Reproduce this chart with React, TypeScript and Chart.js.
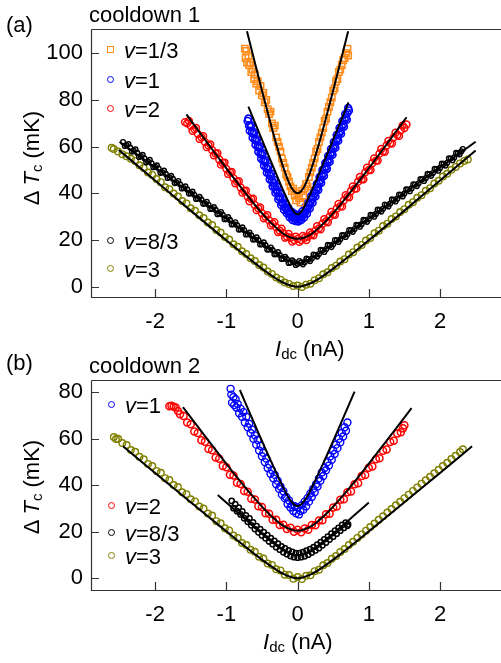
import React, { useEffect, useRef } from 'react';
import { Chart, registerables } from 'chart.js';
Chart.register(...registerables);

const FONT = '"Liberation Sans", Arial, Helvetica, sans-serif';

type P = [number, number][];

// ---- axes ----
const xTicks = [-2, -1, 0, 1, 2];
const yTicksA = [0, 20, 40, 60, 80, 100];
const yTicksB = [0, 20, 40, 60, 80];
const xMin = -2.9, xMax = 2.856;
const yMinA = -4.4, yMaxA = 110.4;
const yMinB = -5.0, yMaxB = 85.3;

// ---- panel (a): cooldown 1 ----
const nu13A: P = [[-0.74,102],[-0.73,98],[-0.72,101],[-0.71,96],[-0.69,99],[-0.68,95],[-0.66,96],[-0.65,92],[-0.63,93],[-0.61,89],[-0.60,91],[-0.58,87],[-0.56,88],[-0.54,84],[-0.52,86],[-0.50,82],[-0.48,83],[-0.46,79],[-0.44,80],[-0.42,76],[-0.40,74],[-0.38,75],[-0.36,70],[-0.34,68],[-0.32,69],[-0.30,64],[-0.28,62],[-0.26,60],[-0.24,58],[-0.22,55],[-0.20,53],[-0.18,51],[-0.16,48],[-0.14,47],[-0.12,45],[-0.10,43],[-0.08,41],[-0.06,42],[-0.04,39],[-0.02,37],[0.00,40],[0.02,38],[0.04,36],[0.06,41],[0.08,39],[0.10,42],[0.12,44],[0.14,43],[0.16,47],[0.18,49],[0.20,51],[0.22,53],[0.24,55],[0.26,58],[0.28,59],[0.30,62],[0.32,64],[0.34,66],[0.36,68],[0.38,71],[0.40,72],[0.42,75],[0.44,77],[0.46,79],[0.48,81],[0.50,84],[0.52,85],[0.54,88],[0.56,89],[0.58,92],[0.60,93],[0.62,95],[0.64,97],[0.66,98],[0.68,100],[0.70,102],[0.71,99]];
const nu1A: P = [[-0.70,71],[-0.68,69],[-0.66,68.5],[-0.64,66],[-0.62,65.5],[-0.60,63],[-0.58,62.5],[-0.56,60],[-0.54,59.5],[-0.52,57],[-0.50,56.5],[-0.48,54],[-0.46,53.5],[-0.44,51],[-0.42,50.5],[-0.40,48.5],[-0.38,47.5],[-0.36,45.5],[-0.34,44.5],[-0.32,43],[-0.30,41.5],[-0.28,40.5],[-0.26,38.5],[-0.24,38],[-0.22,36],[-0.20,35.5],[-0.18,34],[-0.16,33.5],[-0.14,32.5],[-0.12,31.5],[-0.10,31],[-0.08,30],[-0.06,30],[-0.04,29.5],[-0.02,29],[0,29.5],[0.02,29],[0.04,30],[0.06,30],[0.08,31],[0.10,31.5],[0.12,33],[0.14,33.5],[0.16,35],[0.18,36],[0.20,37.5],[0.22,38.5],[0.24,40],[0.26,41.5],[0.28,42.5],[0.30,44.5],[0.32,45.5],[0.34,47.5],[0.36,48.5],[0.38,50.5],[0.40,51.5],[0.42,53.5],[0.44,54.5],[0.46,56.5],[0.48,57.5],[0.50,59.5],[0.52,60.5],[0.54,62.5],[0.56,63.5],[0.58,65.5],[0.60,66.5],[0.62,68.5],[0.64,69.5],[0.66,71.5],[0.68,72.5],[0.70,74.5],[0.72,75.5]];
const nu1A2: P = [[-0.69,72],[-0.67,66.8],[-0.65,69.2],[-0.63,63.8],[-0.61,66.2],[-0.59,60.8],[-0.57,63.2],[-0.55,57.8],[-0.53,60.2],[-0.51,54.8],[-0.49,57.2],[-0.47,51.8],[-0.45,54.2],[-0.43,48.8],[-0.41,51.5],[-0.39,46],[-0.37,48.5],[-0.35,43],[-0.33,45.7],[-0.31,40.3],[-0.29,43],[-0.27,37.5],[-0.25,40.2],[-0.23,35],[-0.21,37.7],[-0.19,33],[-0.17,35.5],[-0.15,31.5],[-0.13,33.8],[-0.11,29.8],[-0.09,32.2],[-0.07,28.6],[-0.05,31.3],[-0.03,28.2],[-0.01,30.6],[0.01,28.0],[0.03,31.0],[0.05,28.6],[0.07,32.3],[0.09,29.7],[0.11,34.2],[0.13,31.3],[0.15,36.2],[0.17,33.5],[0.19,38.7],[0.21,36],[0.23,41.2],[0.25,38.7],[0.27,44],[0.29,41.5],[0.31,47],[0.33,44.5],[0.35,50],[0.37,47.5],[0.39,53],[0.41,50.5],[0.43,56],[0.45,53.5],[0.47,59],[0.49,56.5],[0.51,62],[0.53,59.5],[0.55,65],[0.57,62.5],[0.59,68],[0.61,65.5],[0.63,71],[0.65,68.5],[0.67,74],[0.69,71.5],[0.71,76.5]];
const nu2A: P = [[-1.58,70.5],[-1.55,70],[-1.50,69],[-1.45,67.5],[-1.40,65.5],[-1.35,64],[-1.30,62],[-1.25,60.5],[-1.20,58.5],[-1.15,57],[-1.10,54.5],[-1.05,53],[-1.00,50.5],[-0.95,49],[-0.90,46.5],[-0.85,45],[-0.80,42.5],[-0.75,41],[-0.70,38.5],[-0.65,37.5],[-0.60,35],[-0.55,33.5],[-0.50,31.5],[-0.45,30],[-0.40,28.5],[-0.35,27],[-0.30,25.5],[-0.25,24],[-0.20,23],[-0.15,21.5],[-0.10,21],[-0.05,20],[0,20.5],[0.05,20],[0.10,21],[0.15,21.5],[0.20,22.5],[0.25,24],[0.30,25],[0.35,27],[0.40,28],[0.45,30],[0.50,31],[0.55,33.5],[0.60,34.5],[0.65,37],[0.70,38.5],[0.75,41],[0.80,42],[0.85,45],[0.90,46],[0.95,49],[1.00,50],[1.05,53],[1.10,54],[1.15,57],[1.20,58],[1.25,60.5],[1.30,61.5],[1.35,64],[1.40,65],[1.45,67],[1.50,68],[1.53,69.5]];
const nu2A2: P = [[-1.525,71.0],[-1.475,66.8],[-1.425,68.0],[-1.375,63.3],[-1.325,64.5],[-1.275,59.8],[-1.225,61.0],[-1.175,56.3],[-1.125,57.2],[-1.075,52.3],[-1.025,53.2],[-0.975,48.3],[-0.925,49.2],[-0.875,44.3],[-0.825,45.2],[-0.775,40.3],[-0.725,41.2],[-0.675,36.6],[-0.625,37.7],[-0.575,32.8],[-0.525,34.0],[-0.475,29.3],[-0.425,30.7],[-0.375,26.3],[-0.325,27.7],[-0.275,23.4],[-0.225,24.9],[-0.175,21.0],[-0.125,22.6],[-0.075,19.3],[-0.025,21.5],[0.025,19.2],[0.075,21.8],[0.125,20.0],[0.175,23.3],[0.225,22.0],[0.275,26.0],[0.325,24.6],[0.375,29.0],[0.425,27.6],[0.475,32.0],[0.525,30.8],[0.575,35.5],[0.625,34.3],[0.675,39.2],[0.725,38.3],[0.775,43.0],[0.825,42.0],[0.875,47.0],[0.925,46.0],[0.975,51.0],[1.025,50.0],[1.075,55.0],[1.125,54.0],[1.175,59.0],[1.225,57.8],[1.275,62.5],[1.325,61.3],[1.375,66.0],[1.425,64.6],[1.475,69.0]];
const nu83A: P = [[-2.45,62.0],[-2.40,60.6],[-2.35,59.6],[-2.30,58.2],[-2.25,57.3],[-2.20,55.9],[-2.15,55.0],[-2.10,53.6],[-2.05,52.9],[-2.00,51.4],[-1.95,50.6],[-1.90,49.0],[-1.85,48.3],[-1.80,46.9],[-1.75,46.2],[-1.70,44.6],[-1.65,43.9],[-1.60,42.3],[-1.55,41.7],[-1.50,40.0],[-1.45,39.4],[-1.40,37.8],[-1.35,37.3],[-1.30,35.7],[-1.25,35.1],[-1.20,33.4],[-1.15,32.9],[-1.10,31.3],[-1.05,30.8],[-1.00,29.0],[-0.95,28.6],[-0.90,26.8],[-0.85,26.4],[-0.80,24.6],[-0.75,24.3],[-0.70,22.5],[-0.65,22.0],[-0.60,20.3],[-0.55,20.0],[-0.50,18.2],[-0.45,17.8],[-0.40,16.0],[-0.35,15.7],[-0.30,14.0],[-0.25,13.6],[-0.20,12.0],[-0.15,11.8],[-0.10,10.4],[-0.05,10.5],[0,9.8],[0.05,10.4],[0.10,10.5],[0.15,11.7],[0.20,12.1],[0.25,13.6],[0.30,14.0],[0.35,15.6],[0.40,16.1],[0.45,17.7],[0.50,18.2],[0.55,19.9],[0.60,20.3],[0.65,22.0],[0.70,22.5],[0.75,24.2],[0.80,24.7],[0.85,26.4],[0.90,26.8],[0.95,28.5],[1.00,29.0],[1.05,30.7],[1.10,31.2],[1.15,32.9],[1.20,33.4],[1.25,35.0],[1.30,35.6],[1.35,37.2],[1.40,37.7],[1.45,39.4],[1.50,39.9],[1.55,41.6],[1.60,42.1],[1.65,43.8],[1.70,44.3],[1.75,46.0],[1.80,46.5],[1.85,48.2],[1.90,48.7],[1.95,50.4],[2.00,50.9],[2.05,52.6],[2.10,53.1],[2.15,54.9],[2.20,55.4],[2.25,57.2],[2.30,58.0],[2.32,59.0]];
const nu83A2: P = [[-2.425,60.3],[-2.375,61.1],[-2.325,57.9],[-2.275,58.8],[-2.225,55.6],[-2.175,56.5],[-2.125,53.3],[-2.075,54.3],[-2.025,51.2],[-1.975,52.0],[-1.925,48.8],[-1.875,49.7],[-1.825,46.6],[-1.775,47.5],[-1.725,44.4],[-1.675,45.3],[-1.625,42.1],[-1.575,43.0],[-1.525,39.9],[-1.475,40.7],[-1.425,37.6],[-1.375,38.5],[-1.325,35.5],[-1.275,36.4],[-1.225,33.3],[-1.175,34.1],[-1.125,31.1],[-1.075,32.0],[-1.025,28.9],[-0.975,29.8],[-0.925,26.7],[-0.875,27.6],[-0.825,24.5],[-0.775,25.4],[-0.725,22.4],[-0.675,23.2],[-0.625,20.2],[-0.575,21.1],[-0.525,18.1],[-0.475,19.0],[-0.425,15.9],[-0.375,16.8],[-0.325,13.9],[-0.275,14.8],[-0.225,11.9],[-0.175,12.8],[-0.125,10.2],[-0.075,11.3],[-0.025,9.3],[0.025,11.0],[0.075,9.6],[0.125,12.0],[0.175,11.0],[0.225,13.8],[0.275,12.9],[0.325,15.8],[0.375,14.9],[0.425,17.9],[0.475,17.0],[0.525,20.0],[0.575,19.2],[0.625,22.1],[0.675,21.3],[0.725,24.3],[0.775,23.5],[0.825,26.5],[0.875,25.7],[0.925,28.6],[0.975,27.8],[1.025,30.8],[1.075,30.0],[1.125,33.0],[1.175,32.2],[1.225,35.2],[1.275,34.4],[1.325,37.4],[1.375,36.5],[1.425,39.5],[1.475,38.7],[1.525,41.7],[1.575,40.9],[1.625,43.9],[1.675,43.1],[1.725,46.1],[1.775,45.3],[1.825,48.3],[1.875,47.5],[1.925,50.5],[1.975,49.7],[2.025,52.7],[2.075,51.9],[2.125,55.0],[2.175,54.2],[2.225,57.3],[2.275,56.7]];
const nu3A: P = [[-2.61,59.5],[-2.58,59.0],[-2.52,57.9],[-2.46,56.8],[-2.40,55.9],[-2.34,54.8],[-2.28,53.9],[-2.22,52.0],[-2.16,50.9],[-2.10,48.9],[-2.04,47.9],[-1.98,46.1],[-1.92,44.8],[-1.86,42.6],[-1.80,41.8],[-1.74,39.9],[-1.68,38.6],[-1.62,36.7],[-1.56,35.7],[-1.50,33.6],[-1.44,32.5],[-1.38,30.6],[-1.32,29.4],[-1.26,27.5],[-1.20,26.4],[-1.14,24.3],[-1.08,23.2],[-1.02,21.3],[-0.96,20.2],[-0.90,18.2],[-0.84,17.1],[-0.78,15.2],[-0.72,14.0],[-0.66,12.2],[-0.60,11.0],[-0.54,9.3],[-0.48,8.2],[-0.42,6.5],[-0.36,5.5],[-0.30,3.9],[-0.24,3.0],[-0.18,1.8],[-0.12,1.2],[-0.06,0.3],[0,0.5],[0.06,-0.1],[0.12,0.9],[0.18,1.3],[0.24,2.8],[0.30,3.6],[0.36,5.3],[0.42,6.2],[0.48,8.0],[0.54,9.0],[0.60,10.8],[0.66,11.8],[0.72,13.8],[0.78,14.8],[0.84,16.8],[0.90,17.9],[0.96,19.8],[1.02,20.9],[1.08,22.9],[1.14,24.0],[1.20,26.0],[1.26,27.0],[1.32,29.0],[1.38,30.1],[1.44,32.0],[1.50,33.2],[1.56,35.1],[1.62,36.2],[1.68,38.1],[1.74,39.2],[1.80,41.1],[1.86,42.2],[1.92,44.2],[1.98,45.4],[2.04,47.2],[2.10,48.4],[2.16,50.1],[2.22,51.3],[2.28,52.8],[2.34,53.9],[2.39,54.5]];

const fit13A: P = [[-0.71,109.4],[-0.6,96.0],[-0.5,84.1],[-0.4,72.4],[-0.3,61.2],[-0.2,51.1],[-0.1,43.2],[-0.05,40.9],[0,40],[0.05,40.9],[0.1,43.2],[0.2,51.1],[0.3,61.2],[0.4,72.4],[0.5,84.1],[0.6,96.0],[0.71,109.4]];
const fit1A: P = [[-0.69,77.1],[-0.6,70.4],[-0.5,63.0],[-0.4,55.6],[-0.3,48.3],[-0.2,41.2],[-0.1,34.6],[-0.05,32.1],[0,31],[0.05,32.1],[0.1,34.6],[0.2,41.2],[0.3,48.3],[0.4,55.6],[0.5,63.0],[0.6,70.4],[0.715,79.0]];
const fit2A: P = [[-1.56,73.8],[-1.2,58.9],[-0.9,46.7],[-0.6,35.1],[-0.4,28.2],[-0.2,22.7],[-0.1,21.1],[0,20.5],[0.1,21.1],[0.2,22.7],[0.4,28.2],[0.6,35.1],[0.9,46.7],[1.2,58.9],[1.53,72.6]];
const fit83A: P = [[-2.5,62.1],[-2.0,51.1],[-1.5,40.1],[-1.0,29.2],[-0.6,20.5],[-0.4,16.3],[-0.2,12.3],[0,10],[0.2,12.3],[0.4,16.3],[0.6,20.5],[1.0,29.2],[1.5,40.1],[2.0,51.1],[2.5,62.1]];
const fit3A: P = [[-2.51,58.6],[-2.0,45.5],[-1.5,32.6],[-1.0,19.9],[-0.6,10.1],[-0.4,5.5],[-0.2,1.7],[0,0],[0.2,1.7],[0.4,5.5],[0.6,10.1],[1.0,19.9],[1.5,32.6],[2.0,45.5],[2.5,58.4]];

// ---- panel (b): cooldown 2 ----
const nu1B: P = [[-0.94,81.5],[-0.93,79],[-0.92,75.5],[-0.90,78],[-0.89,74.5],[-0.87,77],[-0.86,73.5],[-0.84,75],[-0.82,71],[-0.80,73],[-0.78,69.5],[-0.76,71.5],[-0.74,67],[-0.72,69.5],[-0.70,65],[-0.68,66.5],[-0.66,62.5],[-0.64,64],[-0.62,60],[-0.60,61.5],[-0.58,57.5],[-0.56,59.5],[-0.54,55],[-0.52,57],[-0.50,52.5],[-0.48,54],[-0.46,50],[-0.44,51.5],[-0.42,47.5],[-0.40,49],[-0.38,45],[-0.36,46.5],[-0.34,43],[-0.32,44.5],[-0.30,40.5],[-0.28,42],[-0.26,38.5],[-0.24,39.5],[-0.22,36],[-0.20,37.5],[-0.18,34.5],[-0.16,35],[-0.14,32],[-0.12,33.5],[-0.10,30.5],[-0.08,31.5],[-0.06,29],[-0.04,31],[-0.02,28],[0,30.5],[0.02,27.5],[0.04,29],[0.06,31.5],[0.08,29.5],[0.10,33],[0.12,31],[0.14,34.5],[0.16,33],[0.18,36.5],[0.20,35],[0.22,38.5],[0.24,37],[0.26,40.5],[0.28,39.5],[0.30,43],[0.32,42],[0.34,45.5],[0.36,44],[0.38,47.5],[0.40,46.5],[0.42,50],[0.44,48.5],[0.46,52.5],[0.48,51],[0.50,55],[0.52,53.5],[0.54,57.5],[0.56,56],[0.58,60],[0.60,58.5],[0.62,62.5],[0.64,61],[0.66,65],[0.68,63.5],[0.70,67]];
const nu2B: P = [[-1.80,74.0],[-1.77,74.2],[-1.74,73.8],[-1.71,73.5],[-1.68,72.0],[-1.65,70.6],[-1.60,69.8],[-1.55,67.0],[-1.50,66.3],[-1.45,63.2],[-1.40,62.5],[-1.35,59.4],[-1.30,58.8],[-1.25,55.6],[-1.20,55.1],[-1.15,52.0],[-1.10,51.4],[-1.05,48.3],[-1.00,47.8],[-0.95,44.6],[-0.90,44.2],[-0.85,41.1],[-0.80,40.6],[-0.75,37.6],[-0.70,37.2],[-0.65,34.2],[-0.60,33.9],[-0.55,31.0],[-0.50,30.7],[-0.45,28.0],[-0.40,27.8],[-0.35,25.2],[-0.30,25.2],[-0.25,22.9],[-0.20,23.1],[-0.15,21.2],[-0.10,21.8],[-0.05,20.0],[0,20.9],[0.05,19.8],[0.10,21.4],[0.15,20.9],[0.20,22.9],[0.25,22.8],[0.30,24.9],[0.35,25.0],[0.40,27.6],[0.45,27.8],[0.50,30.5],[0.55,30.9],[0.60,33.8],[0.65,34.0],[0.70,37.0],[0.75,37.4],[0.80,40.5],[0.85,40.9],[0.90,44.0],[0.95,44.5],[1.00,47.6],[1.05,48.1],[1.10,51.2],[1.15,51.7],[1.20,54.9],[1.25,55.4],[1.30,58.6],[1.35,59.2],[1.40,62.3],[1.45,62.8],[1.48,64.5],[1.50,65.8]];
const nu83B: P = [[-0.925,33.3],[-0.900,30.2],[-0.875,31.9],[-0.850,28.9],[-0.825,30.4],[-0.800,27.5],[-0.775,28.8],[-0.750,25.9],[-0.725,27.1],[-0.700,24.3],[-0.675,25.8],[-0.650,22.8],[-0.625,24.1],[-0.600,21.2],[-0.575,22.5],[-0.550,19.8],[-0.525,21.2],[-0.500,18.4],[-0.475,19.9],[-0.450,17.2],[-0.425,18.6],[-0.400,15.9],[-0.375,17.3],[-0.350,14.7],[-0.325,16.1],[-0.300,13.4],[-0.275,14.9],[-0.250,12.3],[-0.225,13.8],[-0.200,11.2],[-0.175,12.9],[-0.150,10.4],[-0.125,12.1],[-0.100,9.6],[-0.075,11.4],[-0.050,9.1],[-0.025,10.9],[0,8.9],[0.025,10.9],[0.050,9.1],[0.075,11.3],[0.100,9.5],[0.125,11.9],[0.150,10.2],[0.175,12.6],[0.200,11.1],[0.225,13.5],[0.250,12.0],[0.275,14.5],[0.300,13.0],[0.325,15.6],[0.350,14.2],[0.375,16.8],[0.400,15.4],[0.425,18.0],[0.450,16.7],[0.475,19.3],[0.500,17.9],[0.525,20.5],[0.550,19.2],[0.575,21.7],[0.600,20.5],[0.625,23.0],[0.650,21.7],[0.675,24.0],[0.700,22.6],[0.710,23.2]];
const nu3B: P = [[-2.58,60.8],[-2.55,59.9],[-2.52,60.0],[-2.46,58.2],[-2.40,57.3],[-2.34,55.2],[-2.28,54.4],[-2.22,52.3],[-2.16,51.2],[-2.10,49.2],[-2.04,48.3],[-1.98,46.2],[-1.92,45.4],[-1.86,43.1],[-1.80,42.3],[-1.74,40.1],[-1.68,39.3],[-1.62,37.0],[-1.56,36.2],[-1.50,34.0],[-1.44,33.1],[-1.38,30.9],[-1.32,30.0],[-1.26,27.9],[-1.20,27.0],[-1.14,24.6],[-1.08,23.7],[-1.02,21.5],[-0.96,20.6],[-0.90,18.4],[-0.84,17.4],[-0.78,15.2],[-0.72,14.3],[-0.66,12.3],[-0.60,11.4],[-0.54,9.3],[-0.48,8.5],[-0.42,6.4],[-0.36,5.8],[-0.30,3.9],[-0.24,3.4],[-0.18,1.6],[-0.12,1.4],[-0.06,-0.2],[0,0.6],[0.06,-0.3],[0.12,1.1],[0.18,1.3],[0.24,3.1],[0.30,3.7],[0.36,5.6],[0.42,6.6],[0.48,8.4],[0.54,9.6],[0.60,11.3],[0.66,12.6],[0.72,14.3],[0.78,15.7],[0.84,17.4],[0.90,18.9],[0.96,20.5],[1.02,22.1],[1.08,23.6],[1.14,25.2],[1.20,26.7],[1.26,28.3],[1.32,29.8],[1.38,31.4],[1.44,32.9],[1.50,34.5],[1.56,36.0],[1.62,37.6],[1.68,39.1],[1.74,40.7],[1.80,42.2],[1.86,43.7],[1.92,45.2],[1.98,46.7],[2.04,48.3],[2.10,49.7],[2.16,51.3],[2.22,52.7],[2.28,54.3],[2.32,55.5]];

const fit1B: P = [[-0.81,81.0],[-0.6,66.1],[-0.4,52.2],[-0.2,39.0],[-0.1,33.5],[0,31],[0.1,33.5],[0.2,39.0],[0.4,52.2],[0.6,66.1],[0.8,80.3]];
const fit2B: P = [[-1.61,73.6],[-1.2,57.2],[-0.9,45.4],[-0.6,34.3],[-0.4,27.7],[-0.2,22.6],[0,20.5],[0.2,22.6],[0.4,27.7],[0.6,34.3],[0.9,45.4],[1.2,57.2],[1.6,73.2]];
const fit83B: P = [[-1.12,35.9],[-0.8,27.2],[-0.5,19.2],[-0.3,14.3],[-0.15,11.3],[0,10],[0.15,11.3],[0.3,14.3],[0.5,19.2],[0.8,27.2],[1.0,32.6]];
const fit3B: P = [[-2.45,56.8],[-2.0,45.3],[-1.5,32.7],[-1.0,20.2],[-0.6,10.4],[-0.4,5.8],[-0.2,1.9],[0,0],[0.2,1.9],[0.4,5.8],[0.6,10.4],[1.0,20.2],[1.5,32.7],[2.0,45.3],[2.45,56.8]];

const C_ORANGE = '#FF8C1A';
const C_BLUE = '#0000FF';
const C_RED = '#FF0000';
const C_BLACK = '#000000';
const C_OLIVE = '#808000';

type Series = { data: P; color: string; style: string; r: number; bw: number };

const toXY = (p: P) => p.map(([x, y]) => ({ x, y }));

const frame = {
  id: 'frame',
  afterDraw(chart: any) {
    const { ctx, chartArea, scales } = chart;
    const { left, right, top, bottom } = chartArea;
    ctx.save();
    ctx.strokeStyle = '#333';
    ctx.lineWidth = 1.2;
    ctx.beginPath();
    ctx.moveTo(left + 0.5, top + 0.5);
    ctx.lineTo(left + 0.5, bottom + 0.5);
    ctx.lineTo(right, bottom + 0.5);
    ctx.moveTo(left + 0.5, top + 0.5);
    ctx.lineTo(right, top + 0.5);
    scales.x.ticks.forEach((t: any) => {
      const px = Math.round(scales.x.getPixelForValue(t.value)) + 0.5;
      ctx.moveTo(px, bottom);
      ctx.lineTo(px, bottom - 8);
    });
    scales.y.ticks.forEach((t: any) => {
      const py = Math.round(scales.y.getPixelForValue(t.value)) + 0.5;
      ctx.moveTo(left, py);
      ctx.lineTo(left + 8, py);
    });
    ctx.stroke();
    ctx.restore();
  },
};

function Panel(props: {
  top: number; height: number; padTop: number; xAxisH: number;
  yMin: number; yMax: number; yTicks: number[]; series: Series[]; fits: P[];
}) {
  const ref = useRef<HTMLCanvasElement>(null);
  useEffect(() => {
    const { padTop, xAxisH, yMin, yMax, yTicks, series, fits } = props;
    const datasets: any[] = [
      ...fits.map((f) => ({
        data: toXY(f), showLine: true, borderColor: '#000', borderWidth: 2,
        pointRadius: 0, cubicInterpolationMode: 'monotone', order: 0,
      })),
      ...series.map((s) => ({
        data: toXY(s.data), showLine: false, pointStyle: s.style, pointRadius: s.r,
        pointBorderColor: s.color, pointBackgroundColor: 'rgba(0,0,0,0)',
        borderColor: s.color, backgroundColor: 'rgba(0,0,0,0)',
        pointBorderWidth: s.bw, order: 1,
      })),
    ];
    const tickFont = { family: FONT, size: 22 };
    const chart = new Chart(ref.current as HTMLCanvasElement, {
      type: 'scatter',
      data: { datasets },
      options: {
        animation: false,
        responsive: false,
        events: [],
        layout: { autoPadding: false, padding: { top: padTop, left: 0, right: 0, bottom: 0 } },
        plugins: { legend: { display: false }, tooltip: { enabled: false } },
        scales: {
          x: {
            type: 'linear', min: xMin, max: xMax,
            afterBuildTicks: (s: any) => { s.ticks = xTicks.map((v) => ({ value: v })); },
            afterFit: (s: any) => { s.height = xAxisH; },
            grid: { display: false, drawTicks: false },
            border: { display: false },
            ticks: { font: tickFont, color: '#000', padding: 12, maxRotation: 0, autoSkip: false, callback: (v: any) => String(v) },
          },
          y: {
            type: 'linear', min: yMin, max: yMax,
            afterBuildTicks: (s: any) => { s.ticks = yTicks.map((v) => ({ value: v })); },
            afterFit: (s: any) => { s.width = 91; },
            grid: { display: false, drawTicks: false },
            border: { display: false },
            ticks: { font: tickFont, color: '#000', padding: 8, autoSkip: false, callback: (v: any) => String(v) },
          },
        },
      } as any,
      plugins: [frame],
    });
    return () => chart.destroy();
  }, []);
  return (
    <canvas ref={ref} width={501} height={props.height}
      style={{ position: 'absolute', left: 0, top: props.top, width: 501, height: props.height }} />
  );
}

const textBase: React.CSSProperties = {
  position: 'absolute', fontFamily: FONT, fontSize: 22, lineHeight: '22px', whiteSpace: 'nowrap', color: '#000',
};

function Txt({ x, base, children }: { x: number; base: number; children: React.ReactNode }) {
  return <div style={{ ...textBase, left: x, top: base - 18.6 }}>{children}</div>;
}

function LegendItem({ x, y, color, square, label }: { x: number; y: number; color: string; square?: boolean; label: string }) {
  return (
    <>
      <div style={{
        position: 'absolute', left: x - 3.5, top: y - 3.5, width: 7, height: 7, boxSizing: 'border-box',
        border: `1.5px solid ${color}`, borderRadius: square ? 0 : '50%',
      }} />
      <Txt x={x + 14} base={y + 10}><i>v</i>={label}</Txt>
    </>
  );
}

function YTitle({ cx, cy }: { cx: number; cy: number }) {
  return (
    <div style={{ ...textBase, left: cx, top: cy, transform: 'translate(-50%, -50%) rotate(-90deg)' }}>
      Δ <i>T</i><span style={{ fontSize: 15, position: 'relative', top: 3 }}>c</span> (mK)
    </div>
  );
}

function XTitle({ x, base }: { x: number; base: number }) {
  return (
    <Txt x={x} base={base}>
      <i>I</i><span style={{ fontSize: 15, position: 'relative', top: 3 }}>dc</span> (nA)
    </Txt>
  );
}

export default function App() {
  const seriesA: Series[] = [
    { data: nu13A, color: C_ORANGE, style: 'rect', r: 4.5, bw: 1.5 },
    { data: [...nu1A, ...nu1A2], color: C_BLUE, style: 'circle', r: 3.5, bw: 1.6 },
    { data: [...nu2A, ...nu2A2], color: C_RED, style: 'circle', r: 3.4, bw: 1.5 },
    { data: [...nu83A, ...nu83A2], color: C_BLACK, style: 'circle', r: 2.4, bw: 1.4 },
    { data: nu3A, color: C_OLIVE, style: 'circle', r: 3.3, bw: 1.4 },
  ];
  const seriesB: Series[] = [
    { data: nu1B, color: C_BLUE, style: 'circle', r: 3.5, bw: 1.4 },
    { data: nu2B, color: C_RED, style: 'circle', r: 3.5, bw: 1.5 },
    { data: nu83B, color: C_BLACK, style: 'circle', r: 2.6, bw: 1.5 },
    { data: nu3B, color: C_OLIVE, style: 'circle', r: 3.3, bw: 1.4 },
  ];
  return (
    <div style={{ position: 'absolute', left: 0, top: 0, width: 501, height: 663, background: '#fff', overflow: 'hidden' }}>
      <Panel top={0} height={330} padTop={29} xAxisH={33} yMin={yMinA} yMax={yMaxA} yTicks={yTicksA}
        series={seriesA} fits={[fit13A, fit1A, fit2A, fit83A, fit3A]} />
      <Panel top={330} height={333} padTop={50} xAxisH={73} yMin={yMinB} yMax={yMaxB} yTicks={yTicksB}
        series={seriesB} fits={[fit1B, fit2B, fit83B, fit3B]} />

      <Txt x={6} base={33}>(a)</Txt>
      <Txt x={89} base={23}>cooldown 1</Txt>
      <YTitle cx={33} cy={158} />
      <XTitle x={275} base={357} />
      <LegendItem x={110} y={49} color={C_ORANGE} square label="1/3" />
      <LegendItem x={110} y={79} color={C_BLUE} label="1" />
      <LegendItem x={110} y={108} color={C_RED} label="2" />
      <LegendItem x={110} y={240} color={C_BLACK} label="8/3" />
      <LegendItem x={110} y={268} color={C_OLIVE} label="3" />

      <Txt x={6} base={371}>(b)</Txt>
      <Txt x={89} base={374}>cooldown 2</Txt>
      <YTitle cx={33} cy={487} />
      <XTitle x={263} base={650} />
      <LegendItem x={111} y={404} color={C_BLUE} label="1" />
      <LegendItem x={111} y={505} color={C_RED} label="2" />
      <LegendItem x={111} y={532} color={C_BLACK} label="8/3" />
      <LegendItem x={111} y={555} color={C_OLIVE} label="3" />
    </div>
  );
}
